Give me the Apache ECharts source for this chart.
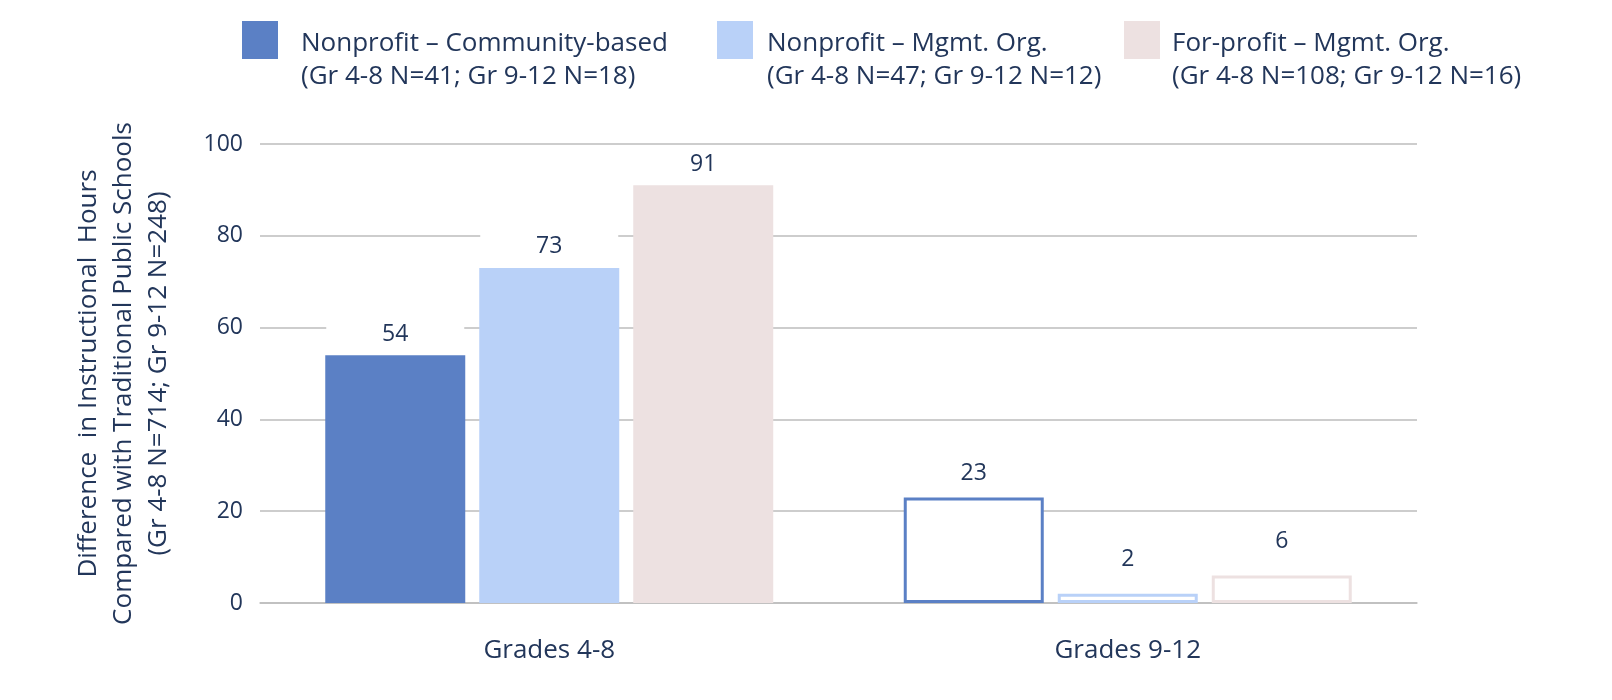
<!DOCTYPE html>
<html>
<head>
<meta charset="utf-8">
<script src="https://cdn.jsdelivr.net/npm/echarts@6/dist/echarts.min.js"></script>
<style>
  html, body { margin: 0; padding: 0; background: #fff; }
  #chart { width: 1612px; height: 700px; }
</style>
</head>
<body>
<div id="chart"></div>
<script>
const categories = ['Grades 4-8', 'Grades 9-12'];
const seriesNames = [
  'Nonprofit – Community-based\n(Gr 4-8 N=41; Gr 9-12 N=18)',
  'Nonprofit – Mgmt. Org.\n(Gr 4-8 N=47; Gr 9-12 N=12)',
  'For-profit – Mgmt. Org.\n(Gr 4-8 N=108; Gr 9-12 N=16)'
];
const communityBased = [54, 23];
const nonprofitMgmt = [73, 2];
const forprofitMgmt = [91, 6];
const yMin = 0, yMax = 100, yInterval = 20;
const yAxisTitle = 'Difference  in Instructional  Hours\nCompared with Traditional Public Schools\n(Gr 4-8 N=714; Gr 9-12 N=248)';

// styling
const colors = ['#5b80c5', '#b9d1f8', '#ede1e1'];
const textColor = '#22365a';
const fontFamily = '"Open Sans", sans-serif';
const textSize = 26;
const numberSize = 23;
const hollowCategory = 1;
const extraLabelLift = [[0, 0, 0], [3, 13, 13]];
const legendLefts = [242, 717, 1124];
const legendTextGaps = [18, 9, 7];

const allValues = [communityBased, nonprofitMgmt, forprofitMgmt];

const series = allValues.map((vals, si) => ({
  name: seriesNames[si],
  type: 'bar',
  barWidth: '24.2%',
  barGap: '10%',
  itemStyle: { color: colors[si] },
  label: {
    show: true,
    position: 'top',
    distance: 9,
    color: textColor,
    fontSize: numberSize,
    fontFamily: fontFamily,
    backgroundColor: '#fff',
    width: 138,
    align: 'center',
    lineHeight: 24
  },
  data: vals.map((v, ci) => {
    const item = { value: v, label: { distance: 9 + extraLabelLift[ci][si] } };
    if (ci === hollowCategory) {
      item.itemStyle = { color: '#fff', borderColor: colors[si], borderWidth: 3 };
    }
    return item;
  })
}));

const legendTextStyle = { color: textColor, fontSize: textSize, fontFamily: fontFamily, lineHeight: 33 };

const legends = seriesNames.map((n, i) => ({
  data: [n],
  left: legendLefts[i],
  top: -13.5,
  padding: 0,
  icon: 'rect',
  itemWidth: 36,
  itemHeight: 38,
  selectedMode: false,
  formatter: (name) => '{s| }\n' + name.split('\n').map(l => '{t|' + l + '}').join('\n'),
  textStyle: {
    color: textColor,
    fontSize: textSize,
    fontFamily: fontFamily,
    padding: [0, 0, 0, legendTextGaps[i]],
    rich: {
      s: { lineHeight: 41, height: 41, fontSize: 10 },
      t: legendTextStyle
    }
  }
}));

const chart = echarts.init(document.getElementById('chart'), null, { renderer: 'canvas' });
chart.setOption({
  animation: false,
  backgroundColor: '#fff',
  legend: legends,
  grid: { left: 260, right: 195, top: 144, bottom: 97, containLabel: false },
  xAxis: {
    type: 'category',
    data: categories,
    axisLine: { show: true, lineStyle: { color: '#bdbdbd', width: 1.5 } },
    axisTick: { show: false },
    axisLabel: { color: textColor, fontSize: textSize, fontFamily: fontFamily, margin: 35 }
  },
  yAxis: {
    type: 'value',
    min: yMin,
    max: yMax,
    interval: yInterval,
    name: yAxisTitle,
    nameLocation: 'middle',
    nameGap: 84,
    nameTextStyle: { color: textColor, fontSize: textSize, fontFamily: fontFamily, lineHeight: 35, align: 'center' },
    axisLine: { show: false },
    axisTick: { show: false },
    axisLabel: { color: textColor, fontSize: numberSize, fontFamily: fontFamily, margin: 17 },
    splitLine: { lineStyle: { color: '#bdbdbd', width: 1.5 } }
  },
  series: series
});
</script>
</body>
</html>
